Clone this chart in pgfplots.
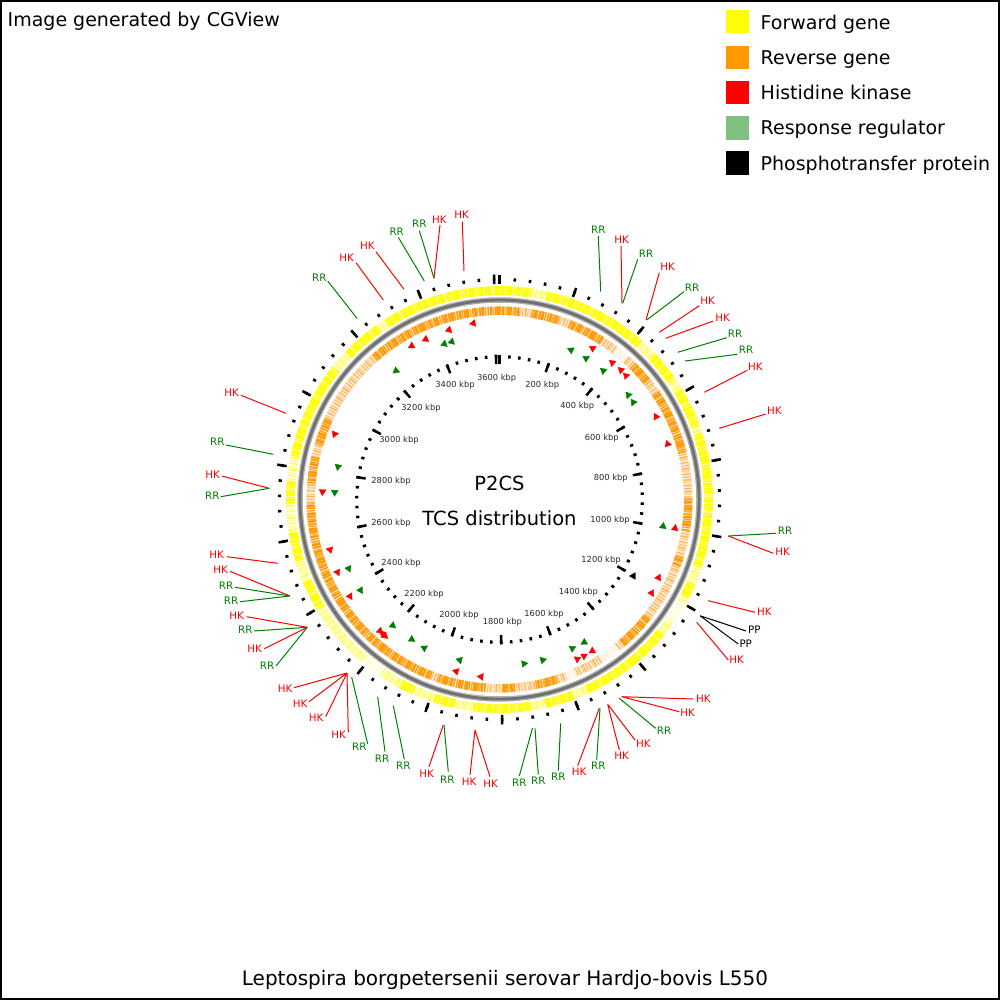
\documentclass[border=0pt]{standalone}
\usepackage{pgfplots}
\pgfplotsset{compat=1.18}
\usepackage{pgfplotstable}
\usepackage{fontspec}
\setmainfont{DejaVu Sans}
\definecolor{fwd}{RGB}{255,255,0}
\definecolor{fwdmid}{RGB}{255,255,80}
\definecolor{fwdpale}{RGB}{255,255,212}
\definecolor{rev}{RGB}{255,153,0}
\definecolor{revmid}{RGB}{255,182,90}
\definecolor{revpale}{RGB}{255,234,208}
\definecolor{hk}{RGB}{255,0,0}
\definecolor{rr}{RGB}{0,128,0}
\definecolor{rrleg}{RGB}{128,192,128}
\definecolor{tlab}{RGB}{40,40,40}
\definecolor{bbout}{RGB}{175,175,175}
\definecolor{bbin}{RGB}{112,112,112}
\newcommand{\px}[1]{499.5+#1*sin(\thisrow{p}*0.0996126)}
\newcommand{\py}[1]{499.5-#1*cos(\thisrow{p}*0.0996126)}
\tikzset{
 hkl/.style={text=hk, inner sep=0pt, font=\fontsize{10.3}{12}\selectfont},
 rrl/.style={text=rr, inner sep=0pt, font=\fontsize{10.3}{12}\selectfont},
 ppl/.style={text=black, inner sep=0pt, font=\fontsize{10.3}{12}\selectfont},
 kl/.style={text=tlab, inner sep=0pt, font=\fontsize{8.3}{10}\selectfont},
 lg/.style={anchor=base west, inner sep=0pt, font=\fontsize{19}{22}\selectfont},
}
\pgfplotsset{blk/.style={restrict expr to domain={\thisrow{p}}{0:4000}}}
% genome positions (kbp) used for rings and ruler
\pgfplotstableread[row sep=\\]{p\\0\\40\\80\\120\\160\\200\\240\\280\\320\\360\\400\\440\\480\\520\\560\\600\\640\\680\\720\\760\\800\\840\\880\\920\\960\\1000\\1040\\1080\\1120\\1160\\1200\\1240\\1280\\1320\\1360\\1400\\1440\\1480\\1520\\1560\\1600\\1640\\1680\\1720\\1760\\1800\\1840\\1880\\1920\\1960\\2000\\2040\\2080\\2120\\2160\\2200\\2240\\2280\\2320\\2360\\2400\\2440\\2480\\2520\\2560\\2600\\2640\\2680\\2720\\2760\\2800\\2840\\2880\\2920\\2960\\3000\\3040\\3080\\3120\\3160\\3200\\3240\\3280\\3320\\3360\\3400\\3440\\3480\\3520\\3560\\3600\\3614\\}\circtab
\pgfplotstableread[row sep=\\]{p\\0\\200\\400\\600\\800\\1000\\1200\\1400\\1600\\1800\\2000\\2200\\2400\\2600\\2800\\3000\\3200\\3400\\3600\\}\majtab
% dense gene blocks, forward strand (-1 separates blocks)
\pgfplotstableread[row sep=\\]{p\\0\\30\\60\\90\\-1\\130\\160\\190\\220\\250\\280\\310\\340\\370\\400\\420\\-1\\470\\500\\530\\560\\-1\\590\\620\\650\\680\\700\\-1\\720\\750\\780\\810\\840\\870\\900\\930\\960\\990\\1020\\1050\\1090\\-1\\1140\\1160\\1180\\-1\\1300\\1330\\1360\\1390\\1420\\1450\\1480\\1510\\1540\\1560\\-1\\1600\\1630\\1660\\1680\\-1\\1720\\1750\\1780\\1810\\1840\\1880\\-1\\1930\\1960\\1990\\-1\\2050\\2070\\2090\\-1\\2400\\2440\\2480\\-1\\2540\\2580\\2620\\-1\\2700\\2730\\2760\\-1\\2830\\2860\\2890\\2920\\2950\\2980\\3010\\3040\\3070\\3100\\-1\\3150\\3180\\3210\\3240\\3260\\-1\\3290\\3320\\3350\\3380\\3410\\3440\\3470\\3500\\3530\\3560\\3590\\3614\\}\fwddense
% dense gene blocks, reverse strand
\pgfplotstableread[row sep=\\]{p\\0\\30\\60\\-1\\100\\140\\180\\-1\\220\\250\\280\\310\\330\\-1\\450\\485\\520\\-1\\560\\590\\620\\650\\680\\710\\740\\760\\-1\\900\\930\\960\\1000\\-1\\1080\\1110\\-1\\1290\\1320\\1350\\1380\\1400\\-1\\1630\\1665\\1700\\-1\\1760\\1800\\-1\\1850\\1880\\1910\\1940\\1970\\2000\\-1\\2020\\2050\\2080\\2110\\2140\\2170\\2200\\2230\\2260\\2290\\2320\\2350\\2380\\2410\\2440\\2470\\2500\\2530\\2560\\2590\\2620\\2650\\2680\\2700\\-1\\2760\\2800\\2840\\-1\\2880\\2920\\2960\\-1\\3200\\3230\\3260\\3290\\3320\\3350\\3380\\3410\\3440\\3470\\3500\\3530\\3560\\3590\\3614\\}\revdense
\pgfplotstableread[row sep=\\]{p\\1200\\1230\\1260\\-1\\2150\\2180\\2210\\}\fwdgap
\pgfplotstableread[row sep=\\]{p\\380\\400\\420\\-1\\1420\\1450\\1480\\-1\\1570\\1600\\}\revgap
% label connector lines (pixel coordinates)
\pgfplotstableread{
x y
383.3 300
356 262.7
nan nan
404 289.3
376 251.7
nan nan
434 278.3
440 225
nan nan
464 271
462.3 221.7
nan nan
622 303.3
621 246
nan nan
646 320
659.3 272.7
nan nan
659.3 332.3
699.3 305.7
nan nan
665.7 338.3
713.3 321
nan nan
704.3 392.3
747.3 370.3
nan nan
719.3 428.3
765.7 414
nan nan
286 413.3
241 395.3
nan nan
269.3 488.3
221.7 476
nan nan
277.7 563.3
226.7 556.7
nan nan
290 596
230 571.3
nan nan
307.3 627.3
246.7 616.7
nan nan
307.3 627.3
264.3 648.7
nan nan
347 673
294 687.7
nan nan
347 673
309 701.7
nan nan
347 673
325.7 716.7
nan nan
347 673
348.3 732.3
nan nan
443.3 725
429 766.7
nan nan
475 730
470 775
nan nan
475 730
490 776.7
nan nan
599.3 708.3
577.7 765.7
nan nan
607.7 704.3
619.3 750
nan nan
608.3 705
635 740
nan nan
621.7 696.7
679.3 711.7
nan nan
621.7 696.7
693.3 699
nan nan
728.3 536
773.3 553.3
nan nan
708.3 600.7
755 612.3
nan nan
696.7 622.3
728.3 660
}\hklines
\pgfplotstableread{
x y
357 318.3
327.7 281
nan nan
424.3 281
398.3 237.3
nan nan
434 278.3
419.3 230.7
nan nan
600.7 291.7
598.3 236
nan nan
622.7 303.3
637.7 259.3
nan nan
646.7 320
684 291.7
nan nan
677.7 352.3
726.7 337.7
nan nan
685 361
737.3 354.3
nan nan
273.3 454.3
226 445
nan nan
269.3 488.3
220.7 496.7
nan nan
290 596
235 587.3
nan nan
290 596
240 601.7
nan nan
307.3 627.3
254 631
nan nan
307.3 627.3
276 666
nan nan
351.7 677.3
367.7 744
nan nan
377.7 696.7
385 751.7
nan nan
393.3 705.7
404.3 759.3
nan nan
444 725
448.3 771.7
nan nan
532.5 728
519.3 776
nan nan
535 728.3
538.3 774.3
nan nan
560.7 723.3
558.3 770.7
nan nan
600 708.3
596.7 760
nan nan
619.3 698.3
655.7 728.3
nan nan
728.3 536
776 533.3
}\rrlines
\pgfplotstableread{
x y
700 615.7
746 631
nan nan
700 615.7
738.3 644
}\pplines
% feature arrows (pixel coordinates, d = 0 counter-clockwise, 180 clockwise)
\pgfplotstableread{
x y d
473.3 323.3 0
449 330 0
425.7 339.3 0
411.7 346 0
592.7 348.3 0
612.3 362.7 0
621 370 0
626 375.7 0
656 416.7 0
667.7 444 0
675 528.3 0
658.5 577.7 0
651.7 593 0
592.3 651 180
584 656 0
577.3 659 0
481 676.7 180
456.3 671.3 180
380 631 0
382.5 633.5 180
385 636 0
350 596.3 0
337.5 572.2 0
330 549.7 0
322.5 491.7 0
334.7 434 0
}\hktri
\pgfplotstableread{
x y d
444.3 344 0
451.7 341.7 0
396 370.7 0
571 350 0
586 358.3 0
603.3 370.7 0
628.3 395 0
633.3 402.3 0
663 526.3 0
584.3 642.3 180
572.3 648.3 0
542.7 660 0
524 663.7 0
459.7 660 180
424.3 648 180
411.7 639.3 0
392.7 625.5 0
360.5 590.2 0
348.7 568.5 0
334.7 492.3 0
338 466.7 0
}\rrtri
\pgfplotstableread{
x y d
633.3 576 0
}\pptri
\begin{document}
\begin{tikzpicture}
\begin{axis}[
  scale only axis, width=1000pt, height=1000pt,
  xmin=0, xmax=1000, ymin=0, ymax=1000, y dir=reverse,
  hide axis, clip=false, unbounded coords=jump,
]
\draw[black, line width=2pt] (axis cs:1,1) rectangle (axis cs:999,999);
% ---- forward genes ring
\addplot[draw=fwdpale, line width=9pt, mark=none] table[x index=0, y index=0, x expr={\px{209}}, y expr={\py{209}}] {\circtab};
\addplot[draw=fwdmid, line width=9pt, mark=none, dash pattern=on 1.1pt off 1.6pt on 0.6pt off 2.2pt on 1.8pt off 1.3pt on 0.8pt off 2.6pt] table[x index=0, y index=0, x expr={\px{209}}, y expr={\py{209}}] {\circtab};
\addplot[draw=white, line width=9.5pt, mark=none, opacity=0.75, blk] table[x index=0, y index=0, x expr={\px{209}}, y expr={\py{209}}] {\fwdgap};
\addplot[draw=fwd, line width=9pt, mark=none, blk, dash pattern=on 1.4pt off 0.9pt on 2.6pt off 0.6pt on 0.7pt off 1.1pt on 1.9pt off 0.5pt on 3.1pt off 0.9pt on 0.9pt off 1.4pt] table[x index=0, y index=0, x expr={\px{209}}, y expr={\py{209}}] {\fwddense};
% ---- backbone
\draw[bbout, line width=5.5pt] (axis cs:499.5,499.5) circle[radius=199.5pt];
\draw[bbin, line width=2.8pt] (axis cs:499.5,499.5) circle[radius=199.5pt];
% ---- reverse genes ring
\addplot[draw=revpale, line width=8.5pt, mark=none] table[x index=0, y index=0, x expr={\px{188.8}}, y expr={\py{188.8}}] {\circtab};
\addplot[draw=revmid, line width=8.5pt, mark=none, dash pattern=on 0.9pt off 1.7pt on 1.5pt off 1.2pt on 0.6pt off 2.4pt on 1.2pt off 1.9pt] table[x index=0, y index=0, x expr={\px{188.8}}, y expr={\py{188.8}}] {\circtab};
\addplot[draw=white, line width=9pt, mark=none, opacity=0.8, blk] table[x index=0, y index=0, x expr={\px{188.8}}, y expr={\py{188.8}}] {\revgap};
\addplot[draw=rev, line width=8.5pt, mark=none, blk, dash pattern=on 1.2pt off 1.0pt on 2.2pt off 0.7pt on 0.6pt off 1.3pt on 1.7pt off 0.6pt on 2.8pt off 1.1pt on 0.8pt off 1.5pt] table[x index=0, y index=0, x expr={\px{188.8}}, y expr={\py{188.8}}] {\revdense};
% ---- outer ruler
\addplot[black, line width=2.6pt, quiver={u={3.2*sin(\thisrow{p}*0.0996126)}, v={-3.2*cos(\thisrow{p}*0.0996126)}}] table[x index=0, y index=0, x expr={\px{218.5}}, y expr={\py{218.5}}] {\circtab};
\addplot[black, line width=2.5pt, quiver={u={9.5*sin(\thisrow{p}*0.0996126)}, v={-9.5*cos(\thisrow{p}*0.0996126)}}] table[x index=0, y index=0, x expr={\px{215.5}}, y expr={\py{215.5}}] {\majtab};
% ---- inner ruler
\addplot[black, line width=2.6pt, quiver={u={3.2*sin(\thisrow{p}*0.0996126)}, v={-3.2*cos(\thisrow{p}*0.0996126)}}] table[x index=0, y index=0, x expr={\px{141.2}}, y expr={\py{141.2}}] {\circtab};
\addplot[black, line width=2.5pt, quiver={u={9.5*sin(\thisrow{p}*0.0996126)}, v={-9.5*cos(\thisrow{p}*0.0996126)}}] table[x index=0, y index=0, x expr={\px{135.5}}, y expr={\py{135.5}}] {\majtab};
% ---- feature arrows
\addplot[scatter, only marks, mark=triangle*, mark size=3.9pt,
  scatter/use mapped color={draw=hk, fill=hk},
  visualization depends on={atan2(499.5-\thisrow{y},\thisrow{x}-499.5)+\thisrow{d} \as \rot},
  scatter/@pre marker code/.append code={\pgftransformrotate{\rot}}] table {\hktri};
\addplot[scatter, only marks, mark=triangle*, mark size=3.9pt,
  scatter/use mapped color={draw=rr, fill=rr},
  visualization depends on={atan2(499.5-\thisrow{y},\thisrow{x}-499.5)+\thisrow{d} \as \rot},
  scatter/@pre marker code/.append code={\pgftransformrotate{\rot}}] table {\rrtri};
\addplot[scatter, only marks, mark=triangle*, mark size=3.9pt,
  scatter/use mapped color={draw=black, fill=black},
  visualization depends on={atan2(499.5-\thisrow{y},\thisrow{x}-499.5)+\thisrow{d} \as \rot},
  scatter/@pre marker code/.append code={\pgftransformrotate{\rot}}] table {\pptri};
% ---- connector lines
\addplot[hk, line width=1pt, mark=none] table {\hklines};
\addplot[rr, line width=1pt, mark=none] table {\rrlines};
\addplot[black, line width=1pt, mark=none] table {\pplines};
% ---- feature labels
\node[hkl] at (axis cs:346.7,257.3) {HK};
\node[hkl] at (axis cs:367.3,246) {HK};
\node[hkl] at (axis cs:439.3,219.3) {HK};
\node[hkl] at (axis cs:461.7,215) {HK};
\node[hkl] at (axis cs:621.7,240) {HK};
\node[hkl] at (axis cs:667.7,266.7) {HK};
\node[hkl] at (axis cs:707.7,301) {HK};
\node[hkl] at (axis cs:722.7,317.3) {HK};
\node[hkl] at (axis cs:755.3,366.7) {HK};
\node[hkl] at (axis cs:774.3,410.7) {HK};
\node[hkl] at (axis cs:231.7,392.3) {HK};
\node[hkl] at (axis cs:212.7,474.3) {HK};
\node[hkl] at (axis cs:216.7,555) {HK};
\node[hkl] at (axis cs:220.7,570) {HK};
\node[hkl] at (axis cs:236.7,616) {HK};
\node[hkl] at (axis cs:254.7,648.7) {HK};
\node[hkl] at (axis cs:285,688.3) {HK};
\node[hkl] at (axis cs:300,703.3) {HK};
\node[hkl] at (axis cs:316,717.3) {HK};
\node[hkl] at (axis cs:338.7,734.3) {HK};
\node[hkl] at (axis cs:426.7,774) {HK};
\node[hkl] at (axis cs:469,782) {HK};
\node[hkl] at (axis cs:490.7,783.3) {HK};
\node[hkl] at (axis cs:579,771.7) {HK};
\node[hkl] at (axis cs:621.7,755.7) {HK};
\node[hkl] at (axis cs:643.3,744) {HK};
\node[hkl] at (axis cs:687.7,712.7) {HK};
\node[hkl] at (axis cs:703.3,699) {HK};
\node[hkl] at (axis cs:782.7,551.7) {HK};
\node[hkl] at (axis cs:764.3,611.7) {HK};
\node[hkl] at (axis cs:736.7,660) {HK};
\node[rrl] at (axis cs:319.3,277.3) {RR};
\node[rrl] at (axis cs:396.7,231.7) {RR};
\node[rrl] at (axis cs:419.3,224) {RR};
\node[rrl] at (axis cs:598.3,230) {RR};
\node[rrl] at (axis cs:646,254) {RR};
\node[rrl] at (axis cs:692,287.3) {RR};
\node[rrl] at (axis cs:735,334) {RR};
\node[rrl] at (axis cs:746,350) {RR};
\node[rrl] at (axis cs:217.3,442) {RR};
\node[rrl] at (axis cs:212.3,495.3) {RR};
\node[rrl] at (axis cs:226,586) {RR};
\node[rrl] at (axis cs:231,600.7) {RR};
\node[rrl] at (axis cs:245.3,630) {RR};
\node[rrl] at (axis cs:267,666) {RR};
\node[rrl] at (axis cs:359.3,746.7) {RR};
\node[rrl] at (axis cs:382,758.3) {RR};
\node[rrl] at (axis cs:403.3,765.7) {RR};
\node[rrl] at (axis cs:447.3,779.3) {RR};
\node[rrl] at (axis cs:519.3,782.7) {RR};
\node[rrl] at (axis cs:538.3,780.7) {RR};
\node[rrl] at (axis cs:558.3,776.7) {RR};
\node[rrl] at (axis cs:598.3,765.7) {RR};
\node[rrl] at (axis cs:664,730.7) {RR};
\node[rrl] at (axis cs:785,531) {RR};
\node[ppl] at (axis cs:754.3,630) {PP};
\node[ppl] at (axis cs:745.7,643.3) {PP};
% ---- ruler labels
\node[kl] at (axis cs:496.7,378.3) {3600 kbp};
\node[kl] at (axis cs:542.3,385) {200 kbp};
\node[kl] at (axis cs:577.3,406) {400 kbp};
\node[kl] at (axis cs:601.7,438.3) {600 kbp};
\node[kl] at (axis cs:610.7,478.3) {800 kbp};
\node[kl] at (axis cs:610,520) {1000 kbp};
\node[kl] at (axis cs:601,560) {1200 kbp};
\node[kl] at (axis cs:578.3,592.3) {1400 kbp};
\node[kl] at (axis cs:544,614) {1600 kbp};
\node[kl] at (axis cs:502.3,622.3) {1800 kbp};
\node[kl] at (axis cs:459,615.3) {2000 kbp};
\node[kl] at (axis cs:424,594) {2200 kbp};
\node[kl] at (axis cs:401,563.3) {2400 kbp};
\node[kl] at (axis cs:391,523.3) {2600 kbp};
\node[kl] at (axis cs:391,481) {2800 kbp};
\node[kl] at (axis cs:399,440.7) {3000 kbp};
\node[kl] at (axis cs:421,408.3) {3200 kbp};
\node[kl] at (axis cs:455,385.7) {3400 kbp};
% ---- centre titles
\node[anchor=base, inner sep=0pt, font=\fontsize{19.5}{22}\selectfont] at (axis cs:499.5,490) {P2CS};
\node[anchor=base, inner sep=0pt, font=\fontsize{19.5}{22}\selectfont] at (axis cs:499.5,525) {TCS distribution};
% ---- header, footer
\node[lg] at (axis cs:7.5,27) {Image generated by CGView};
\node[anchor=base, inner sep=0pt, font=\fontsize{20}{23}\selectfont] at (axis cs:505,985) {Leptospira borgpetersenii serovar Hardjo-bovis L550};
% ---- legend
\fill[fwd] (axis cs:725.7,10) rectangle (axis cs:749.3,33.3);
\fill[rev] (axis cs:725.7,45.7) rectangle (axis cs:749.3,69);
\fill[hk] (axis cs:725.7,81) rectangle (axis cs:749.3,104.3);
\fill[rrleg] (axis cs:725.7,116.3) rectangle (axis cs:749.3,139.6);
\fill[black] (axis cs:725.7,151.3) rectangle (axis cs:749.3,174.6);
\node[lg] at (axis cs:760.5,29.3) {Forward gene};
\node[lg] at (axis cs:760.5,64.5) {Reverse gene};
\node[lg] at (axis cs:760.5,99.8) {Histidine kinase};
\node[lg] at (axis cs:760.5,135) {Response regulator};
\node[lg] at (axis cs:760.5,170.2) {Phosphotransfer protein};
\end{axis}
\end{tikzpicture}
\end{document}
